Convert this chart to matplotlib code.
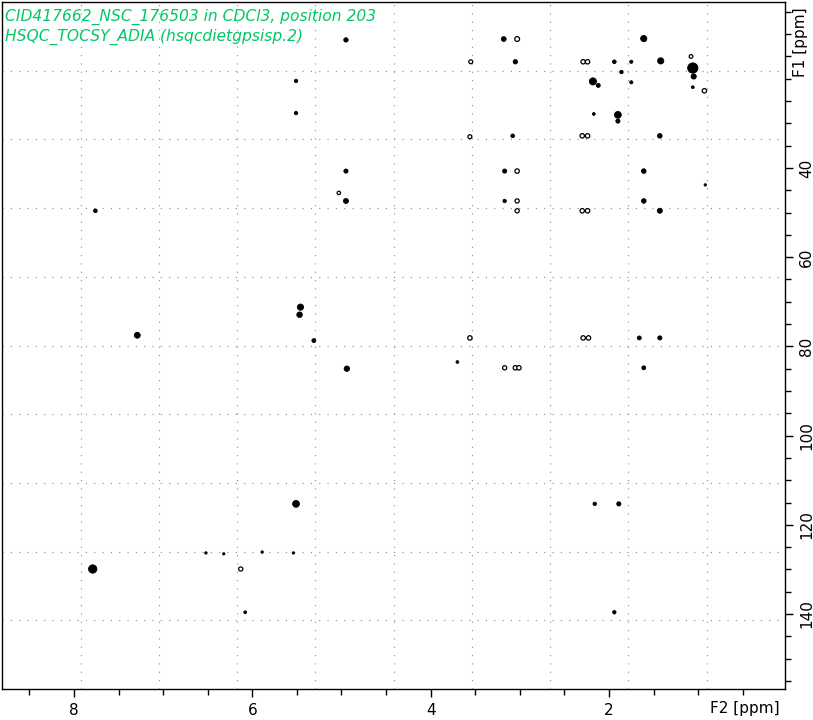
import numpy as np
import matplotlib
matplotlib.use('Agg')
import matplotlib.pyplot as plt

# HSQC-TOCSY peak list: F2 (1H ppm), F1 (13C ppm), size, kind
# kind: 'f' filled blob, 'h' hollow contour
f2_ppm = [4.95, 3.18, 3.03, 1.61,
          3.55, 3.05, 2.29, 2.24, 1.94, 1.75, 1.42, 1.06, 1.08, 1.05, 1.86, 1.75,
          2.18, 2.12, 1.06, 0.93, 2.17, 1.90, 1.90, 5.51, 5.51,
          3.56, 3.08, 2.30, 2.24, 1.43,
          4.95, 3.17, 3.03, 1.61, 0.92,
          5.03, 4.95, 3.17, 3.03, 1.61, 3.03, 2.30, 2.24, 1.43, 7.76,
          5.46, 5.47, 7.29, 5.31, 4.94, 3.56, 3.70, 3.17, 3.05, 3.01,
          2.29, 2.23, 1.66, 1.43, 1.61,
          5.51, 2.16, 1.89,
          6.52, 6.32, 5.89, 5.54, 7.79, 6.13,
          6.08, 1.94]
f1_ppm = [11.3, 11.1, 11.1, 11.0,
          16.2, 16.2, 16.2, 16.2, 16.2, 16.2, 16.0, 17.6, 15.0, 19.5, 18.5, 20.8,
          20.6, 21.5, 21.9, 22.7, 27.9, 28.1, 29.5, 20.5, 27.7,
          33.0, 32.8, 32.8, 32.8, 32.8,
          40.7, 40.7, 40.7, 40.7, 43.8,
          45.6, 47.4, 47.4, 47.4, 47.4, 49.6, 49.6, 49.6, 49.6, 49.6,
          71.2, 72.9, 77.5, 78.7, 85.0, 78.1, 83.5, 84.8, 84.8, 84.8,
          78.1, 78.1, 78.1, 78.1, 84.8,
          115.3, 115.3, 115.3,
          126.3, 126.5, 126.1, 126.3, 129.9, 129.9,
          139.6, 139.6]
peak_size = [10, 12, 12, 20,
             8, 10, 10, 10, 7, 5, 20, 55, 7, 14, 6, 5,
             26, 8, 4, 10, 4, 24, 9, 6, 6,
             8, 7, 10, 10, 11,
             9, 9, 10, 11, 3,
             6, 13, 6, 9, 11, 9, 10, 10, 13, 7,
             20, 16, 18, 8, 15, 10, 4, 9, 10, 10,
             10, 10, 8, 9, 8,
             24, 6, 9,
             3, 3, 3, 3, 36, 9,
             4, 6]
peak_kind = ['f', 'f', 'h', 'f',
             'h', 'f', 'h', 'h', 'f', 'f', 'f', 'f', 'h', 'f', 'f', 'f',
             'f', 'f', 'f', 'h', 'f', 'f', 'f', 'f', 'f',
             'h', 'f', 'h', 'h', 'f',
             'f', 'f', 'h', 'f', 'f',
             'h', 'f', 'f', 'h', 'f', 'h', 'h', 'h', 'f', 'f',
             'f', 'f', 'f', 'f', 'f', 'h', 'f', 'h', 'h', 'h',
             'h', 'h', 'f', 'f', 'f',
             'f', 'f', 'f',
             'f', 'f', 'f', 'f', 'f', 'h',
             'f', 'f']

x_ticks_major = [8, 6, 4, 2]
y_ticks_major = [40, 60, 80, 100, 120, 140]

title_lines = ['CID417662_NSC_176503 in CDCl3, position 203',
               'HSQC_TOCSY_ADIA (hsqcdietgpsisp.2)']

fig = plt.figure(figsize=(8.13, 7.20), dpi=100)
ax = fig.add_axes([2.3 / 813, 31 / 720, 782.7 / 813, 687 / 720])

f2 = np.array(f2_ppm)
f1 = np.array(f1_ppm)
sz = np.array(peak_size)
kind = np.array(peak_kind)

filled = kind == 'f'
ax.scatter(f2[filled], f1[filled], s=sz[filled], c='black', marker='o',
           linewidths=0.6, edgecolors='black', zorder=3)
ax.scatter(f2[~filled], f1[~filled], s=sz[~filled], facecolors='white',
           marker='o', linewidths=0.9, edgecolors='black', zorder=3)

ax.set_xlim(8.804, 0.026)
ax.set_ylim(156.8, 2.8)

# dotted grid: ten equal divisions of the frame, independent of the ticks
for k in range(1, 10):
    ax.plot([k / 10, k / 10], [0, 1], transform=ax.transAxes, color='#8a8a8a',
            lw=0.8, linestyle=(0, (1, 6.5)), zorder=1)
    ax.plot([0, 1], [k / 10, k / 10], transform=ax.transAxes, color='#8a8a8a',
            lw=0.8, linestyle=(0, (1, 6.5)), zorder=1)

ax.set_xticks(x_ticks_major)
ax.set_xticks(np.arange(0.5, 8.8, 0.5), minor=True)
ax.set_xticklabels([str(v) for v in x_ticks_major])
ax.yaxis.tick_right()
ax.set_yticks(y_ticks_major)
ax.set_yticks(np.arange(5, 156, 5), minor=True)
ax.set_yticklabels([str(v) for v in y_ticks_major], rotation=90, va='center')

ax.tick_params(axis='both', which='major', length=6, width=1.0, labelsize=11,
               pad=4, direction='out')
ax.tick_params(axis='both', which='minor', length=4.5, width=1.0, direction='out')
ax.tick_params(axis='y', which='both', left=False, right=True)
for sp in ax.spines.values():
    sp.set_linewidth(1.0)

fig.text(780 / 813, 1 - 708 / 720, 'F2 [ppm]', ha='right', va='center', fontsize=11)
fig.text(800 / 813, 1 - 42 / 720, 'F1 [ppm]', ha='center', va='center',
         fontsize=11, rotation=90)

ax.text(0.004, 0.99, '\n'.join(title_lines), transform=ax.transAxes,
        ha='left', va='top', fontsize=11.2, style='italic', color='#00c864',
        linespacing=1.3)

fig.savefig('out.png', dpi=100)
